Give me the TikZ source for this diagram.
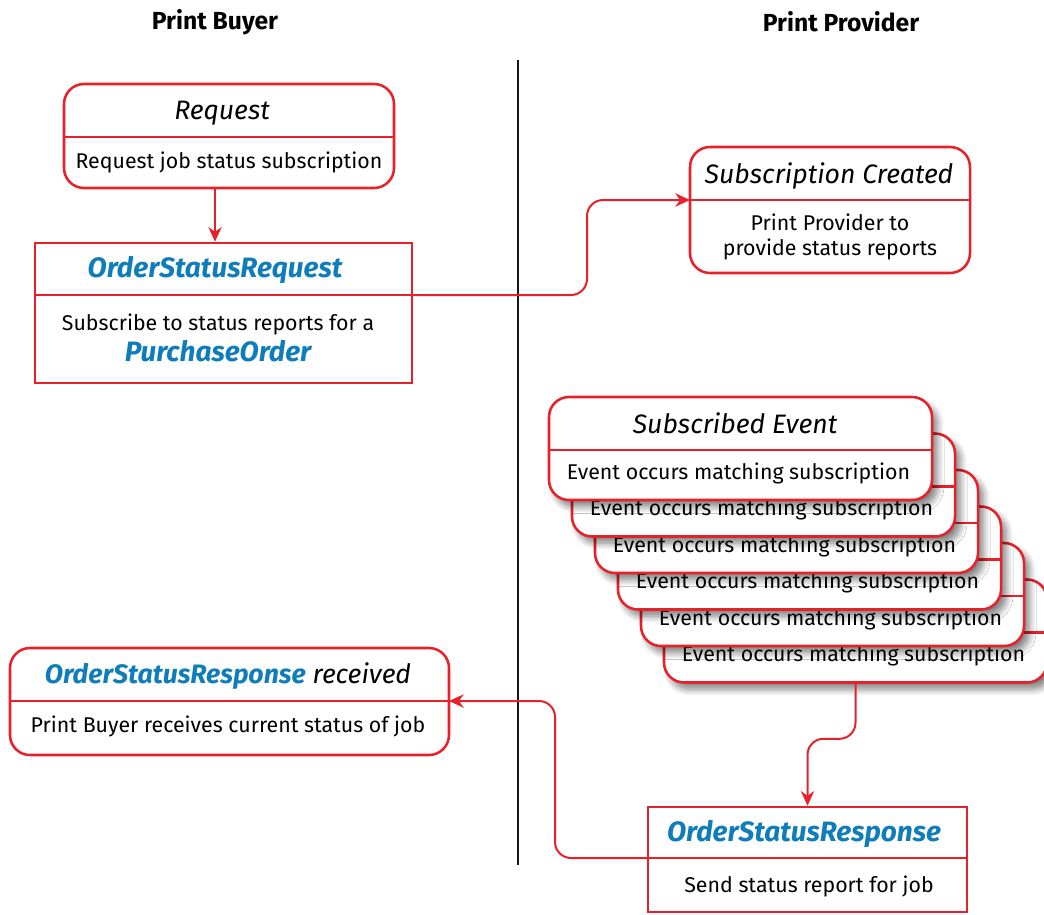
\documentclass[tikz,border=0pt]{standalone}
\usepackage{fontspec}
\setmainfont{Fira Sans}
\usetikzlibrary{positioning}
\usetikzlibrary{arrows.meta,shadows.blur}
\newcommand{\U}{0.75pt}
\newcommand{\StackDx}{23}
\newcommand{\StackDy}{36.5}
\newcommand{\Corner}{15pt}
\definecolor{BoxRed}{RGB}{232, 32, 42}
\definecolor{TypeBlue}{RGB}{14, 125, 186}
\definecolor{Black}{RGB}{20, 20, 20}
\newcommand{\TypeName}[1]{\textcolor{TypeBlue}{\bfseries\itshape #1}}

\begin{document}
\begin{tikzpicture}[x=\U, y=-\U,
    sbox/.style={draw=BoxRed, fill=white, line width=1.9pt, inner sep=0pt},
    rbox/.style={sbox, rounded corners=\Corner},
    evbox/.style={rbox, blur shadow={shadow xshift=4pt, shadow yshift=-5pt, shadow blur radius=5pt, shadow blur steps=8, shadow opacity=50}},
    divline/.style={BoxRed, line width=1.9pt},
    title/.style={font=\fontsize{20}{24}\selectfont\itshape, inner sep=0pt},
    body/.style={font=\fontsize{16}{19}\selectfont, align=center, inner sep=0pt},
    head/.style={font=\fontsize{18.5}{22}\selectfont\bfseries, inner sep=0pt},
    arr/.style={BoxRed, line width=1.5pt, -{Stealth[length=11pt, width=10pt]}, rounded corners=12pt}]
  \useasboundingbox (0,0) rectangle (1044,914);

  % Lanes
  \node[head] (buyer) at (215,22) {Print Buyer};
  \node[head] (provider) at (841,22) {Print Provider};
  \draw[Black, line width=1.3pt] (518,60) -- (518,865);

  % Request
  \node[rbox, minimum width=330*\U, minimum height=104*\U] (req) at (229,136) {};
  \draw[divline] (64,137) -- (394,137);
  \node[title] (req-t) at (222,113) {Request};
  \node[body] (req-b) at (229,162) {Request job status subscription};

  % OrderStatusRequest
  \node[sbox, minimum width=377*\U, minimum height=140*\U] (osr) at (223.5,313) {};
  \draw[divline] (35,295) coordinate (osr-dl) -- (412,295) coordinate (osr-dr);
  \node[title] (osr-t) at (215,270) {\TypeName{\fontsize{21}{24}\selectfont OrderStatusRequest}};
  \node[body] (osr-b) at (218,338) {Subscribe to status reports for a\\[3pt]
    {\fontsize{21}{24}\selectfont\TypeName{PurchaseOrder}}};

  % Subscription Created
  \node[rbox, minimum width=280*\U, minimum height=126*\U] (sub) at (830,210) {};
  \draw[divline] (690,200) coordinate (sub-dl) -- (970,200) coordinate (sub-dr);
  \node[title] (sub-t) at (829,176) {Subscription Created};
  \node[body] (sub-b) at (830,237) {Print Provider to\\provide status reports};

  % Subscribed events
  \foreach \k in {5,4,...,0} {
    \begin{scope}[shift={(\k*\StackDx,\k*\StackDy)}]
      \node[evbox, minimum width=383*\U, minimum height=103*\U] (ev\k) at (740.5,448.5) {};
      \draw[divline] (549,450) -- (932,450);
      \node[body] (ev\k-b) at (738.5,473) {Event occurs matching subscription};
    \end{scope}
  }
  \node[title] (ev-t) at (735,423) {Subscribed Event};

  % OrderStatusResponse
  \node[sbox, minimum width=319*\U, minimum height=105*\U] (resp) at (807.5,859.5) {};
  \draw[divline] (648,858) coordinate (resp-dl) -- (967,858) coordinate (resp-dr);
  \node[title] (resp-t) at (804,834) {\TypeName{\fontsize{21}{24}\selectfont OrderStatusResponse}};
  \node[body] (resp-b) at (809,886) {Send status report for job};

  % Response received
  \node[rbox, minimum width=439*\U, minimum height=107*\U] (rcv) at (229.5,701.5) {};
  \draw[divline] (10,701) coordinate (rcv-dl) -- (449,701) coordinate (rcv-dr);
  \node[title] (rcv-t) at (228,676) {\TypeName{OrderStatusResponse} received};
  \node[body] (rcv-b) at (228,726) {Print Buyer receives current status of job};

  % Connectors
  \draw[arr] ([xshift=-14*\U]req.south) -- ([xshift=-14*\U]req.south |- osr.north);
  \draw[arr] (osr-dr) -- ++(175,0) |- (sub-dl);
  \draw[arr] (ev5.south) -- ++(0,55) -| (resp.north);
  \draw[arr] (resp-dl) -- ++(-93,0) |- (rcv-dr);
\end{tikzpicture}
\end{document}
